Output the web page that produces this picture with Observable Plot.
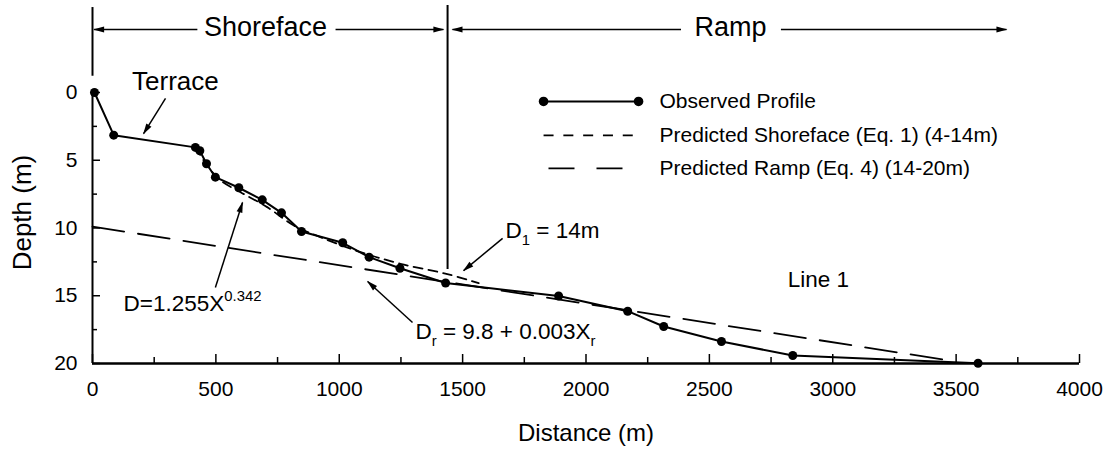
<!DOCTYPE html>
<html><head><meta charset="utf-8">
<script src="https://cdn.jsdelivr.net/npm/d3@7"></script>
<script src="https://cdn.jsdelivr.net/npm/@observablehq/plot@0.6"></script>
<style>
body{margin:0;background:#fff}
svg{font-family:"Liberation Sans",Arial,Helvetica,sans-serif}
</style>
</head><body><div id="chart"></div>
<script>
// Observed profile (distance m, depth m)
const obsDistance = [8, 86, 417, 435, 462, 498, 593, 688, 766, 847, 1014, 1121, 1246, 1431, 1889, 2169, 2315, 2549, 2838, 3589];
const obsDepth    = [0, 3.15, 4.05, 4.3, 5.26, 6.25, 7.03, 7.92, 8.88, 10.26, 11.09, 12.15, 12.97, 14.06, 15.02, 16.14, 17.27, 18.38, 19.41, 19.98];
// Predicted shoreface (Eq. 1)
const shoreDistance = [417, 465, 519, 600, 708, 816, 897, 1073, 1248, 1438, 1565];
const shoreDepth    = [4.04, 5.39, 6.49, 7.36, 8.46, 9.82, 10.48, 11.7, 12.64, 13.4, 14.07];
// Predicted ramp (Eq. 4)
const rampDistance = [0, 3480];
const rampDepth    = [9.9, 19.8];
// Ticks
const xTicks = [0, 500, 1000, 1500, 2000, 2500, 3000, 3500, 4000];
const xMinor = [250, 750, 1250, 1750, 2250, 2750, 3250, 3750];
const yTicks = [0, 5, 10, 15, 20];
const yMinor = [2.5, 7.5, 12.5, 17.5];
// Legend labels
const legendLabels = ["Observed Profile", "Predicted Shoreface (Eq. 1) (4-14m)", "Predicted Ramp (Eq. 4) (14-20m)"];

const observed = obsDistance.map((d, i) => ({x: d, y: obsDepth[i]}));
const shoreface = shoreDistance.map((d, i) => ({x: d, y: shoreDepth[i]}));
const ramp = rampDistance.map((d, i) => ({x: d, y: rampDepth[i]}));

// annotation placement (data units)
const notesMiddle = [
  {x: 336, y: -0.78, text: "Terrace", size: 26},
  {x: 2942, y: 13.8, text: "Line 1", size: 22.5},
  {x: 701, y: -4.84, text: "Shoreface", size: 27},
  {x: 2586, y: -4.84, text: "Ramp", size: 27},
  {x: 2000, y: 25.15, text: "Distance (m)", size: 24}
];
const notesStart = [
  {x: 126, y: 15.56, text: "D=1.255X^{0.342}", size: 22.5},
  {x: 1674, y: 10.2, text: "D_{1} = 14m", size: 22.5},
  {x: 1309, y: 17.68, text: "D_{r} = 9.8 + 0.003X_{r}", size: 22.5}
];
const arrows = [
  {x1: 296, y1: 0.44, x2: 207, y2: 3.03},
  {x1: 498, y1: 14.39, x2: 608, y2: 8.12},
  {x1: 1662, y1: 10.77, x2: 1504, y2: 13.14},
  {x1: 1297, y1: 16.97, x2: 1115, y2: 13.95},
  {x1: 425, y1: -4.65, x2: 6.5, y2: -4.65},
  {x1: 985, y1: -4.65, x2: 1422, y2: -4.65},
  {x1: 2385, y1: -4.65, x2: 1459, y2: -4.65},
  {x1: 2790, y1: -4.65, x2: 3704, y2: -4.65}
];
const legendY = [0.66, 3.17, 5.6];

const svg = Plot.plot({
  width: 1103, height: 454,
  marginLeft: 92, marginRight: 24, marginTop: 92, marginBottom: 91,
  x: {domain: [0, 4000]},
  y: {domain: [0, 20], reverse: true},
  style: {background: "#fff", color: "#000", fontFamily: "Liberation Sans, Arial, sans-serif"},
  marks: [
    Plot.axisX({ticks: xTicks, tickSize: 0, tickPadding: 18, fontSize: 21, label: null, tickFormat: d => String(d)}),
    Plot.axisY({ticks: yTicks, tickSize: 0, tickPadding: 15, fontSize: 21, label: null, tickFormat: d => String(d)}),
    // axis lines and inward ticks
    Plot.ruleY([20], {x1: 0, x2: 4000, strokeWidth: 2.5}),
    Plot.ruleX([0], {y1: 0, y2: 20, strokeWidth: 2}),
    Plot.ruleX(xTicks, {y1: 20, y2: 20 - 9 / 13.55, strokeWidth: 1.5}),
    Plot.ruleX(xMinor, {y1: 20, y2: 20 - 6 / 13.55, strokeWidth: 1.5}),
    Plot.ruleY(yTicks, {x1: 0, x2: 8 / 0.24675, strokeWidth: 1.5}),
    Plot.ruleY(yMinor, {x1: 0, x2: 5 / 0.24675, strokeWidth: 1.5}),
    // boundaries
    Plot.ruleX([0], {y1: -6.27, y2: -1.2, strokeWidth: 2}),
    Plot.ruleX([1439], {y1: -6.42, y2: 13.06, strokeWidth: 2}),
    // predicted lines
    Plot.line(ramp, {x: "x", y: "y", stroke: "#000", strokeWidth: 1.8, strokeDasharray: "32,14"}),
    Plot.line(shoreface, {x: "x", y: "y", stroke: "#000", strokeWidth: 1.8, strokeDasharray: "9,6", curve: "catmull-rom"}),
    // observed
    Plot.line(observed, {x: "x", y: "y", stroke: "#000", strokeWidth: 2}),
    Plot.dot(observed, {x: "x", y: "y", r: 4.5, fill: "#000"}),
    // legend
    Plot.link([0], {x1: 1828, x2: 2213, y1: legendY[0], y2: legendY[0], strokeWidth: 2}),
    Plot.dot([1828, 2213], {x: d => d, y: legendY[0], r: 4.8, fill: "#000"}),
    Plot.link([0], {x1: 1828, x2: 2197, y1: legendY[1], y2: legendY[1], strokeWidth: 1.8, strokeDasharray: "10,9.8"}),
    Plot.link([0], {x1: 1848, x2: 2148, y1: legendY[2], y2: legendY[2], strokeWidth: 1.8, strokeDasharray: "26,22"}),
    Plot.text(legendLabels, {x: 2298, y: (d, i) => legendY[i], text: d => d, textAnchor: "start", fontSize: 21, fill: "#000"}),
    // annotations
    Plot.link(arrows, {x1: "x1", y1: "y1", x2: "x2", y2: "y2", strokeWidth: 1.5, markerEnd: "arrow"}),
    Plot.text(notesMiddle, {x: "x", y: "y", text: "text", textAnchor: "middle", fontSize: "size", fill: "#000"}),
    Plot.text(notesStart, {x: "x", y: "y", text: "text", textAnchor: "start", fontSize: "size", fill: "#000"}),
    Plot.text(["Depth (m)"], {x: -284, y: 8.86, text: d => d, rotate: -90, fontSize: 26, fill: "#000"})
  ]
});

// filled arrowheads
svg.querySelectorAll("marker").forEach(m => {
  m.setAttribute("viewBox", "-11 -5 13 10");
  m.setAttribute("markerWidth", 13);
  m.setAttribute("markerHeight", 10);
  m.setAttribute("markerUnits", "userSpaceOnUse");
  m.setAttribute("fill", "#000");
  m.setAttribute("stroke", "none");
  const p = m.querySelector("path");
  if (p) p.setAttribute("d", "M-10,-3L1,0L-10,3Z");
});

// sub/superscripts
svg.querySelectorAll("text").forEach(t => {
  const s = t.textContent;
  if (!/[\^_]\{/.test(s)) return;
  while (t.firstChild) t.removeChild(t.firstChild);
  const re = /([\^_])\{([^}]*)\}/g;
  let last = 0, m, shift = 0;
  const add = (txt, dy, small) => {
    const ts = document.createElementNS("http://www.w3.org/2000/svg", "tspan");
    ts.textContent = txt;
    if (dy) ts.setAttribute("dy", dy + "px");
    if (small) ts.setAttribute("font-size", small);
    t.appendChild(ts);
  };
  const fs = parseFloat(t.getAttribute("font-size") || t.parentNode.getAttribute("font-size") || 22.5);
  while ((m = re.exec(s))) {
    if (m.index > last) { add(s.slice(last, m.index), -shift, null); shift = 0; }
    const d = m[1] === "^" ? -0.42 * fs : 0.3 * fs;
    add(m[2], d - shift, (0.66 * fs) + "px");
    shift = d;
    last = re.lastIndex;
  }
  if (last < s.length) { add(s.slice(last), -shift, null); }
});

document.getElementById("chart").appendChild(svg);
</script>
</body></html>
